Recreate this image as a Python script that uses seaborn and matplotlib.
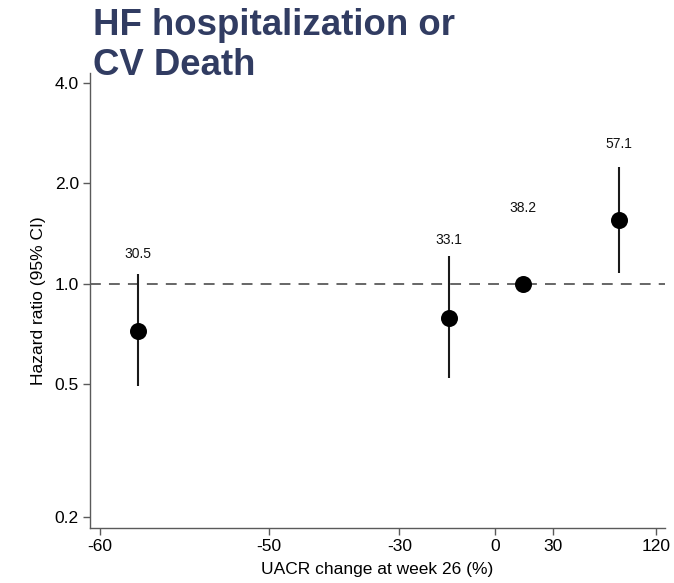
import numpy as np
import pandas as pd
import matplotlib
matplotlib.use("Agg")
import matplotlib.pyplot as plt
import seaborn as sns

# ---- data ----
uacr_change = [-58.6, -16.7, 13.2, 80.6]          # x position (median UACR change, %)
hazard_ratio = [0.724, 0.789, 1.0, 1.549]
ci_lower = [0.492, 0.521, 1.0, 1.081]
ci_upper = [1.072, 1.208, 1.0, 2.234]
event_rate = ["30.5", "33.1", "38.2", "57.1"]
x_ticks = [-60, -50, -30, 0, 30, 120]
y_ticks = [0.2, 0.5, 1.0, 2.0, 4.0]
y_tick_labels = ["0.2", "0.5", "1.0", "2.0", "4.0"]
title = "HF hospitalization or\nCV Death"
x_label = "UACR change at week 26 (%)"
y_label = "Hazard ratio (95% CI)"

df = pd.DataFrame({"x": uacr_change, "hr": hazard_ratio,
                   "lo": ci_lower, "hi": ci_upper, "lab": event_rate})

sns.set_theme(style="ticks")
plt.rcParams["font.family"] = ["Liberation Sans", "DejaVu Sans"]

W, H = 674, 583
fig = plt.figure(figsize=(W / 100, H / 100), dpi=100)
ax = fig.add_axes([90 / W, 55 / H, (665 - 90) / W, (528 - 73) / H])

OFF = 65.0
fwd = lambda v: np.log(np.maximum(np.asarray(v, dtype=float) + OFF, 1e-9))
inv = lambda v: np.exp(v) - OFF
ax.set_xscale("function", functions=(fwd, inv))
ax.set_yscale("log")

spine_col = "#5a5a5a"

# reference line
ax.axhline(1.0, color="#5a5a5a", lw=1.3, ls=(0, (6, 4.5)), zorder=1)

# confidence intervals
ci = df[df["lo"] != df["hi"]]
ax.vlines(ci["x"], ci["lo"], ci["hi"], color="#1a1a1a", lw=1.5, zorder=2)

# points
sns.scatterplot(data=df, x="x", y="hr", ax=ax, s=150, color="black",
                edgecolor="black", linewidth=0, zorder=3, legend=False)

# event-rate labels
offsets_px = [20, 16, 76, 23]
for (_, r), off in zip(df.iterrows(), offsets_px):
    ax.annotate(r["lab"], (r["x"], r["hi"]), xytext=(0, off * 0.72),
                textcoords="offset points", ha="center", va="center",
                fontsize=10, color="#111111")

ax.set_xlim(-60.3, 131)
ax.set_ylim(0.185, 4.29)
ax.set_xticks(x_ticks)
ax.set_xticklabels([str(t) for t in x_ticks])
ax.set_yticks(y_ticks)
ax.set_yticklabels(y_tick_labels)
ax.yaxis.set_minor_locator(matplotlib.ticker.NullLocator())
ax.xaxis.set_minor_locator(matplotlib.ticker.NullLocator())

ax.tick_params(axis="both", direction="out", length=5, width=1, color=spine_col,
               labelsize=12.5, labelcolor="black", pad=3)
for s in ["top", "right"]:
    ax.spines[s].set_visible(False)
for s in ["left", "bottom"]:
    ax.spines[s].set_color(spine_col)
    ax.spines[s].set_linewidth(1.0)

ax.set_xlabel(x_label, fontsize=12.5, color="black", labelpad=6)
ax.set_ylabel(y_label, fontsize=12.5, color="black", labelpad=6)

fig.text(93 / W, 1 - 8 / H, title, fontsize=26.4, fontweight="bold",
         color="#313c62", ha="left", va="top", linespacing=1.18)

fig.savefig("out.png", dpi=100)
